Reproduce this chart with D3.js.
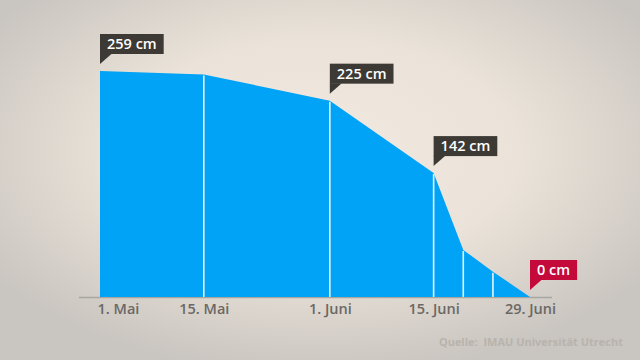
<!DOCTYPE html>
<html><head><meta charset="utf-8">
<script src="https://cdn.jsdelivr.net/npm/d3@7"></script>
<style>
html,body{margin:0;padding:0;width:640px;height:360px;overflow:hidden;}
svg{display:block;}
text{font-family:"Open Sans","DejaVu Sans",sans-serif;}
</style></head>
<body>
<svg id="c" width="640" height="360"></svg>
<script>
const dates = ["2019-05-01","2019-05-15","2019-06-01","2019-06-15","2019-06-19","2019-06-23","2019-06-28"];
const values = [259, 255, 225, 142, 54, 29, 0];
const tickIndex = [0, 1, 2, 3, 6];
const tickLabels = ["1. Mai","15. Mai","1. Juni","15. Juni","29. Juni"];
const calloutIndex = [0, 2, 3, 6];
const calloutLabels = ["259 cm","225 cm","142 cm","0 cm"];
const source = "Quelle:  IMAU Universität Utrecht";

const parse = d3.timeParse("%Y-%m-%d");
const data = dates.map((d,i)=>({date:parse(d), value:values[i]}));

const svg = d3.select("#c");
const W = 640, H = 360;

// background radial gradient
const defs = svg.append("defs");
const rg = defs.append("radialGradient").attr("id","bg")
  .attr("cx","50%").attr("cy","42%").attr("r","62%")
  .attr("fx","50%").attr("fy","42%");
rg.append("stop").attr("offset","0%").attr("stop-color","#f1e9df");
rg.append("stop").attr("offset","50%").attr("stop-color","#ebe3d9");
rg.append("stop").attr("offset","100%").attr("stop-color","#c9c5c0");
svg.append("rect").attr("width",W).attr("height",H).attr("fill","url(#bg)");

const x = d3.scaleTime().domain([data[0].date, data[data.length-1].date]).range([100, 530]);
const y = d3.scaleLinear().domain([0, 259]).range([297, 71]);

// axis baseline
svg.append("line").attr("x1", 79).attr("x2", 552).attr("y1", y(0)+0.5).attr("y2", y(0)+0.5)
  .attr("stroke","#a9a6a2").attr("stroke-width",1.5);

// area
const area = d3.area().x(d=>x(d.date)).y0(y(0)).y1(d=>y(d.value));
svg.append("path").datum(data).attr("d", area).attr("fill","#00a3f5");

// white divider lines
svg.selectAll("line.div").data(data.slice(1, data.length-1)).join("line")
  .attr("class","div")
  .attr("x1", d=>x(d.date)).attr("x2", d=>x(d.date))
  .attr("y1", d=>y(d.value)+1).attr("y2", y(0))
  .attr("stroke","#ffffff").attr("stroke-opacity",0.9).attr("stroke-width",1.6);

// x axis labels
const axis = d3.axisBottom(x)
  .tickValues(tickIndex.map(i=>data[i].date))
  .tickFormat((d,i)=>tickLabels[i])
  .tickSize(0).tickPadding(7);
const ga = svg.append("g").attr("transform",`translate(0,${y(0)})`).call(axis);
ga.select(".domain").remove();
ga.selectAll("text").attr("fill","#6b6865").attr("font-size",14.5).attr("font-weight",600)
  .attr("font-family","'Open Sans', sans-serif");
ga.selectAll("text").filter((d,i)=>i===0).attr("text-anchor","start").attr("dx",-3);

// callouts
calloutIndex.forEach((idx,k)=>{
  const d = data[idx];
  const px = x(d.date), py = y(d.value);
  const last = idx === data.length-1;
  const col = last ? "#c40a3b" : "#3d3a36";
  const g = svg.append("g");
  const t = g.append("text").text(calloutLabels[k])
    .attr("font-size",14.5).attr("font-weight",600).attr("fill","#ffffff")
    .attr("x", px + 7).attr("y", py - 20);
  const bb = t.node().getBBox();
  const bw = bb.width + 14, bh = 20;
  const top = py - 17 - bh;
  g.insert("rect","text").attr("x", px).attr("y", top).attr("width", bw).attr("height", bh).attr("fill", col);
  g.insert("path","text").attr("d", `M${px},${top+bh-0.5}L${px+12},${top+bh-0.5}L${px},${py-7}Z`).attr("fill", col);
  t.attr("y", top + 15);
});

// source
svg.append("text").attr("x",623).attr("y",346).attr("text-anchor","end")
  .attr("font-size",11).attr("font-weight",700).attr("fill","#b8b3ad")
  .attr("xml:space","preserve").style("white-space","pre").text(source);
</script>
</body></html>
